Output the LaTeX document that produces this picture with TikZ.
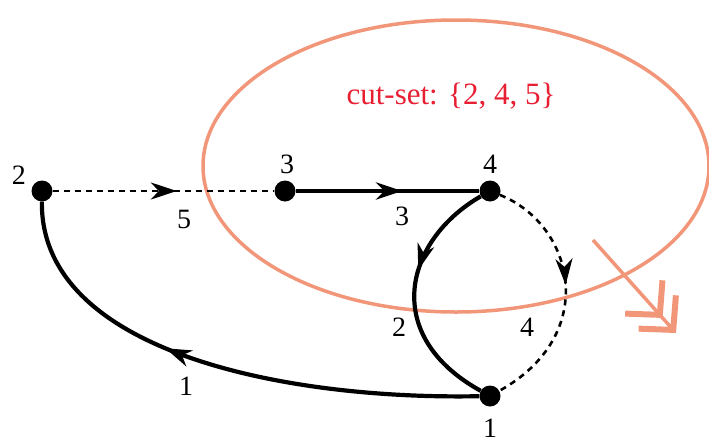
\documentclass[tikz,border=0pt]{standalone}
\usepackage{fontspec}
\setmainfont{Liberation Serif}
\usetikzlibrary{arrows.meta,decorations.markings}
\definecolor{cutcol}{RGB}{242,150,122}
\definecolor{labred}{RGB}{232,30,50}
\tikzset{
  vert/.style={circle,fill=black,inner sep=0pt,minimum size=21pt},
  vlab/.style={font=\fontsize{28}{30}\selectfont,inner sep=0pt},
  elab/.style={font=\fontsize{28}{30}\selectfont,inner sep=0pt},
  treeedge/.style={line width=4.2pt},
  chordedge/.style={line width=2.6pt,dash pattern=on 6pt off 5pt},
  midarrow/.style={postaction={decorate},decoration={markings,
     mark=at position #1 with {\arrow{Stealth[length=26pt,width=17pt,inset=8pt]}}}},
}
\begin{document}
\begin{tikzpicture}[x=1pt,y=-1pt]
\useasboundingbox (0,0) rectangle (709,442);
% cut-set ellipse
\draw[cutcol,line width=3.5pt] (456,166) ellipse [x radius=253, y radius=146];
\node[font=\fontsize{31}{33}\selectfont,text=labred] (cutlab) at (451,96) {cut-set: \{2, 4, 5\}};
% vertices
\node[vert] (n2) at (42,191) {};
\node[vert] (n3) at (285,191) {};
\node[vert] (n4) at (490,191) {};
\node[vert] (n1) at (490,396) {};
\node[vlab] (l2) at (19,175) {2};
\node[vlab] (l3) at (287,164) {3};
\node[vlab] (l4) at (490,164) {4};
\node[vlab] (l1) at (490,428) {1};
% edges
\draw[chordedge,midarrow=0.56] (n2) -- (n3);
\draw[treeedge,midarrow=0.58] (n3) -- (n4);
\draw[treeedge,midarrow=0.4] (n4) .. controls (405,240) and (380,335) .. (n1);
\draw[chordedge,midarrow=0.47] (n4) .. controls (575,225) and (600,335) .. (n1);
\draw[treeedge,midarrow=0.61] (n1) .. controls (280,400) and (40,350) .. (n2);
% edge labels
\node[elab] (e5) at (184,219) {5};
\node[elab] (e3) at (402,216) {3};
\node[elab] (e2) at (399,327) {2};
\node[elab] (e4) at (527,327) {4};
\node[elab] (e1) at (186,386) {1};
% direction arrow
\coordinate (da) at (593,240);
\coordinate (db) at (676,333);
\draw[cutcol,line width=3.5pt,-{Straight Barb[length=24pt,width=50pt,line width=6pt,sep=-11pt]Straight Barb[length=24pt,width=50pt,line width=6pt]}] (da) -- (db);
\end{tikzpicture}
\end{document}
